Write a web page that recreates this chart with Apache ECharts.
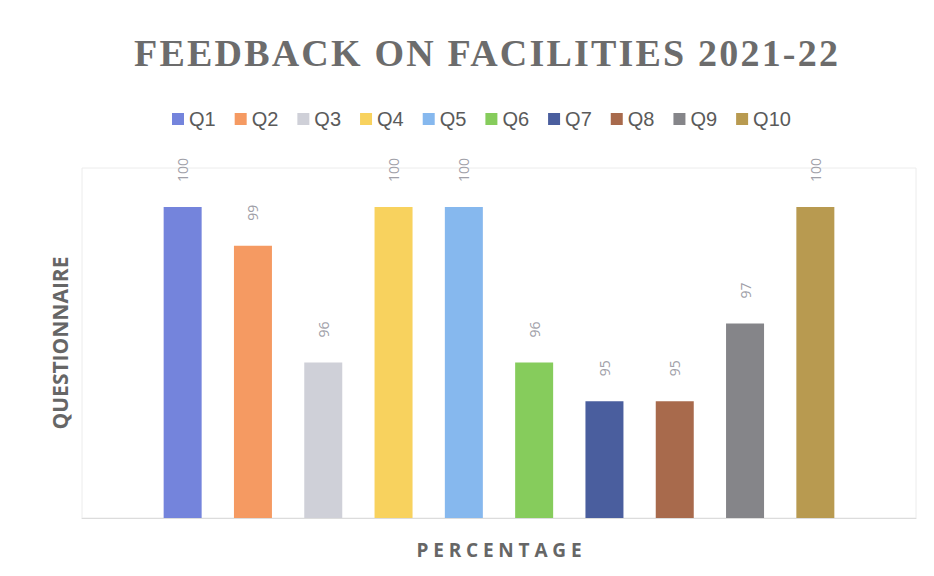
<!DOCTYPE html>
<html>
<head>
<meta charset="utf-8">
<script src="https://cdn.jsdelivr.net/npm/echarts@6/dist/echarts.min.js"></script>
<style>html,body{margin:0;padding:0;background:#fff}#c{width:934px;height:576px}</style>
</head>
<body>
<div id="c"></div>
<script>
const seriesNames = ['Q1','Q2','Q3','Q4','Q5','Q6','Q7','Q8','Q9','Q10'];
const values = [100, 99, 96, 100, 100, 96, 95, 95, 97, 100];
const colors = ['#7484dc','#f59a62','#cfd0d8','#f8d25e','#86b8ee','#86cc5c','#4a5e9e','#a86a4c','#858589','#b89a50'];
const categories = [''];
const titleText = 'FEEDBACK ON FACILITIES 2021-22';
const xName = 'PERCENTAGE';
const yName = 'QUESTIONNAIRE';

const chart = echarts.init(document.getElementById('c'), null, {renderer: 'svg'});
chart.setOption({
  backgroundColor: '#ffffff',
  animation: false,
  title: {
    text: titleText,
    left: 129,
    top: 29,
    textStyle: {fontFamily: 'Liberation Serif', fontWeight: 'bold', fontSize: 38, color: '#6c6c6c'}
  },
  legend: {
    top: 104,
    left: 167,
    itemWidth: 12, itemHeight: 12, itemGap: 19,
    icon: 'rect',
    textStyle: {fontFamily: 'Liberation Sans', fontSize: 20, color: '#5a5a5a'},
    data: seriesNames
  },
  grid: {left: 82, right: 18, top: 168, bottom: 58, show: true, borderColor: '#ececec', borderWidth: 1},
  xAxis: {
    type: 'category',
    data: categories,
    axisLine: {lineStyle: {color: '#dcdcdc'}},
    axisTick: {show: false},
    axisLabel: {show: false},
    name: xName,
    nameLocation: 'middle',
    nameGap: 22,
    nameTextStyle: {fontFamily: 'Open Sans', fontWeight: 'bold', fontSize: 19, color: '#666666'}
  },
  yAxis: {
    type: 'value',
    min: 92, max: 101, interval: 1,
    axisLabel: {show: false},
    axisLine: {show: false},
    axisTick: {show: false},
    splitLine: {show: false},
    name: yName,
    nameLocation: 'middle',
    nameRotate: 90,
    nameGap: 12,
    nameTextStyle: {fontFamily: 'Open Sans', fontWeight: 'bold', fontSize: 21, color: '#666666'}
  },
  series: seriesNames.map((n, i) => ({
    name: n,
    type: 'bar',
    data: [values[i]],
    barWidth: 38,
    barGap: '85%',
    itemStyle: {color: colors[i]},
    label: {
      show: true,
      position: 'top',
      rotate: 90,
      align: 'left',
      verticalAlign: 'middle',
      distance: 25,
      fontFamily: 'Open Sans',
      fontSize: 14,
      color: '#a0a0a8'
    }
  }))
});
// letter spacing for title and x-axis name (text stays real text)
const spacing = {};
spacing[titleText] = 2.2;
spacing[xName] = 4.8;
document.querySelectorAll('#c text').forEach(t => {
  const s = spacing[t.textContent];
  if (s) {
    t.setAttribute('letter-spacing', s);
    t.style.letterSpacing = s + 'px';
    if (t.textContent === xName) {
      const x = parseFloat(t.getAttribute('x') || '0');
      t.setAttribute('x', x + s / 2);
    }
  }
});
</script>
</body>
</html>
